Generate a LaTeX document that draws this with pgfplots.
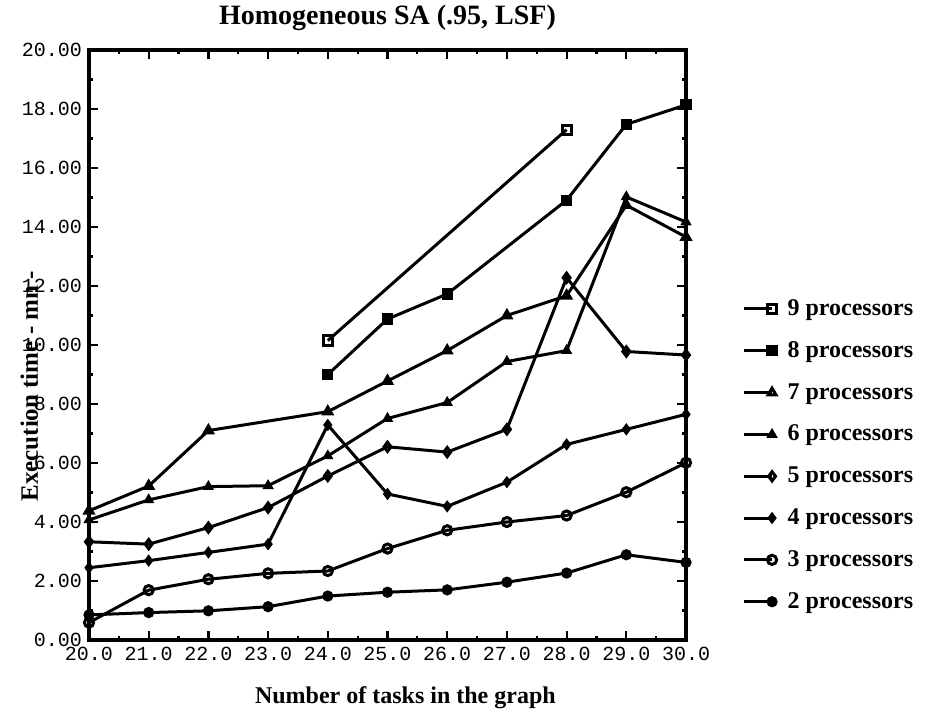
\documentclass[border=0pt]{standalone}
\usepackage{fontspec}
\setmainfont{Liberation Serif}
\setmonofont{Liberation Mono}
\usepackage{pgfplots}
\pgfplotsset{compat=1.18}
\begin{document}
\begin{tikzpicture}
\begin{axis}[
  scale only axis, width=298.5pt, height=295pt,
  at={(0,0)}, anchor=south west,
  xmin=20, xmax=30, ymin=0, ymax=20,
  xtick={20,...,30}, ytick={0,2,...,20},
  minor x tick num=1, minor y tick num=1,
  tick align=inside,
  major tick length=4.5pt, minor tick length=2pt,
  every tick/.style={black, line width=1.1pt},
  axis line style={line width=2.2pt},
  xticklabel style={font=\ttfamily\fontsize{10}{12}\selectfont, /pgf/number format/.cd, fixed, fixed zerofill, precision=1, assume math mode=true},
  yticklabel style={font=\ttfamily\fontsize{10}{12}\selectfont, /pgf/number format/.cd, fixed, fixed zerofill, precision=2, assume math mode=true},
  title={Homogeneous SA (.95, LSF)},
  title style={font=\fontsize{14}{16}\selectfont\bfseries},
  xlabel={Number of tasks in the graph},
  xlabel style={font=\fontsize{12}{14}\selectfont\bfseries, at={(axis description cs:0.53,-0.098)}, anchor=center},
  ylabel={Execution time - mn -},
  ylabel style={font=\fontsize{12.5}{14}\selectfont\bfseries, at={(axis description cs:-0.1,0.43)}, anchor=center},
  legend style={draw=none, fill=none, at={(axis description cs:1.084,0.313)}, anchor=west, font=\fontsize{12}{14}\selectfont\bfseries, row sep=7.5pt},
  legend cell align=left,
  legend image code/.code={\draw[#1, mark repeat=2, mark phase=2] plot coordinates {(0pt,0pt) (14pt,0pt)}; \path (19pt,0pt);},
  every axis plot/.append style={black, line width=1.5pt, mark size=2.3pt, mark options={solid, line width=1pt}},
]
% 9 processors
\addplot[mark=square, mark options={fill=white}] coordinates {(24,10.15) (28,17.30)};
\addlegendentry{9 processors}
% 8 processors
\addplot[mark=square*] coordinates {(24,9.00) (25,10.88) (26,11.73) (28,14.91) (29,17.48) (30,18.14)};
\addlegendentry{8 processors}
% 7 processors
\addplot[mark=triangle, mark options={fill=white}] coordinates {(20,4.38) (21,5.22) (22,7.10) (24,7.74) (25,8.78) (26,9.81) (27,11.00) (28,11.67) (29,14.74) (30,13.66)};
\addlegendentry{7 processors}
% 6 processors
\addplot[mark=triangle*] coordinates {(20,4.07) (21,4.75) (22,5.20) (23,5.23) (24,6.24) (25,7.51) (26,8.05) (27,9.44) (28,9.81) (29,15.02) (30,14.17)};
\addlegendentry{6 processors}
% 5 processors
\addplot[mark=diamond, mark options={fill=white}] coordinates {(20,3.33) (21,3.25) (22,3.81) (23,4.49) (24,5.56) (25,6.55) (26,6.37) (27,7.14) (28,12.28) (29,9.78) (30,9.66)};
\addlegendentry{5 processors}
% 4 processors
\addplot[mark=diamond*] coordinates {(20,2.45) (21,2.69) (22,2.97) (23,3.25) (24,7.29) (25,4.95) (26,4.53) (27,5.35) (28,6.63) (29,7.14) (30,7.65)};
\addlegendentry{4 processors}
% 3 processors
\addplot[mark=o, mark options={fill=white}] coordinates {(20,0.59) (21,1.69) (22,2.06) (23,2.26) (24,2.34) (25,3.10) (26,3.72) (27,4.00) (28,4.22) (29,5.01) (30,6.01)};
\addlegendentry{3 processors}
% 2 processors
\addplot[mark=*] coordinates {(20,0.85) (21,0.93) (22,0.99) (23,1.13) (24,1.49) (25,1.62) (26,1.70) (27,1.96) (28,2.27) (29,2.89) (30,2.63)};
\addlegendentry{2 processors}
\end{axis}
\pgfresetboundingbox
\path (-44.5pt,-37pt) rectangle (418pt,320pt);
\end{tikzpicture}
\end{document}
